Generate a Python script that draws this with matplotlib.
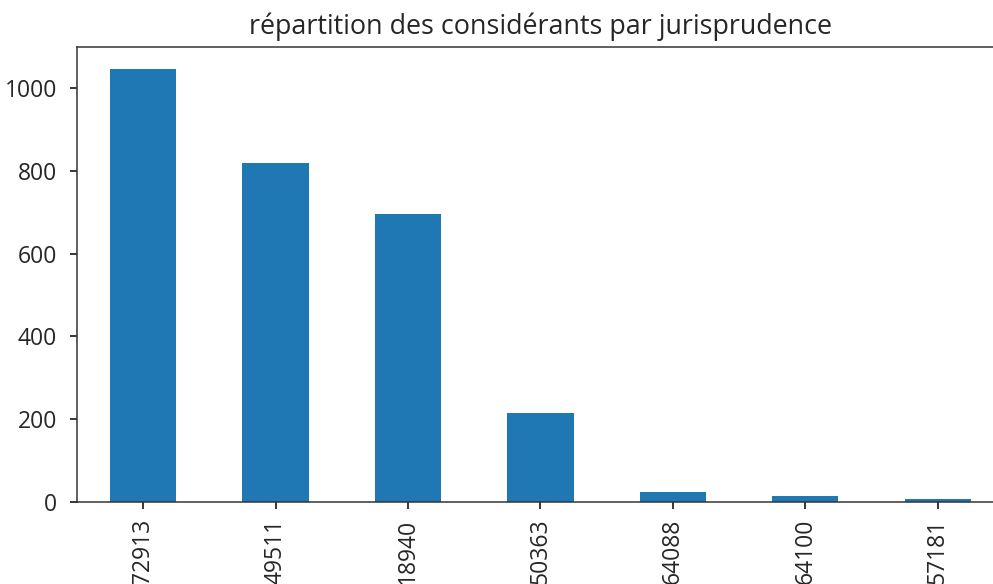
import matplotlib
matplotlib.use("Agg")
import matplotlib.pyplot as plt

plt.rcParams["font.family"] = ["Open Sans", "DejaVu Sans"]
plt.rcParams["text.color"] = "#262626"
plt.rcParams["xtick.labelcolor"] = "#262626"
plt.rcParams["ytick.labelcolor"] = "#262626"

# jurisprudence ids (only the visible tail of each label) and counts
labels = ["72913", "49511", "18940", "50363", "64088", "64100", "57181"]
counts = [1048, 819, 697, 215, 23, 13, 7]

DPI = 137
fig = plt.figure(figsize=(993 / DPI, 584 / DPI), dpi=DPI)
# the reference is cropped on the right and bottom, so the axes run past the edge
ax = fig.add_axes([0.0775, 0.1409, 0.9335, 0.7786])

x = range(len(labels))
ax.bar(x, counts, width=0.5, color="#1f77b4")
ax.set_xlim(-0.5, len(labels) - 0.5)
ax.set_ylim(0, max(counts) * 1.05)
ax.set_xticks(list(x))
ax.set_xticklabels(labels, rotation=90)
ax.set_yticks([0, 200, 400, 600, 800, 1000])
ax.set_title("répartition des considérants par jurisprudence", fontsize=14.1, pad=7)
ax.tick_params(labelsize=12)
ax.tick_params(axis="x", pad=5.5)
ax.tick_params(axis="y", pad=7)
for s in ax.spines.values():
    s.set_color("#333333")
ax.spines["right"].set_visible(False)

fig.savefig("out.png", dpi=DPI)
